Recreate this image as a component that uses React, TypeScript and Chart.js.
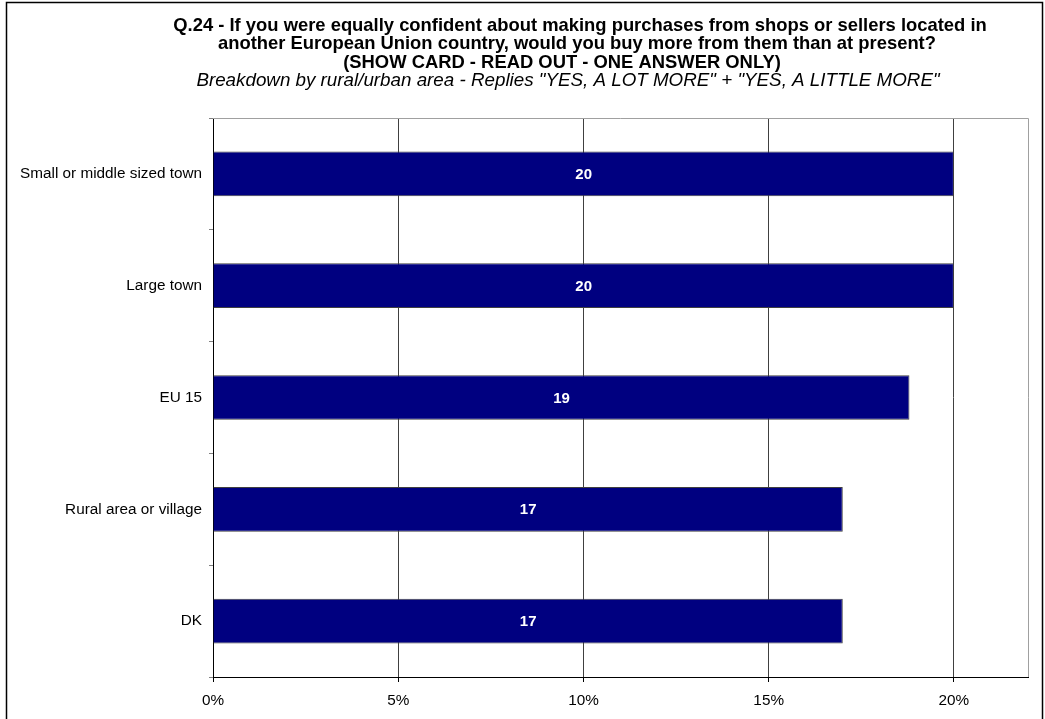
import React, { useEffect, useRef } from "react";
import { Chart, registerables } from "chart.js";

Chart.register(...registerables);

const categories = [
  "Small or middle sized town",
  "Large town",
  "EU 15",
  "Rural area or village",
  "DK",
];
const values = [20, 20, 18.8, 17, 17];
const valueLabels = ["20", "20", "19", "17", "17"];
const xTicks = [0, 5, 10, 15, 20];
const xMax = 22;

const titleLines = [
  "Q.24 - If you were equally confident about making purchases from shops or sellers located in",
  "another European Union country, would you buy more from them than at present?",
  "(SHOW CARD - READ OUT - ONE ANSWER ONLY)",
];
const subtitleText =
  'Breakdown by rural/urban area - Replies "YES, A LOT MORE" + "YES, A LITTLE MORE"';

const FONT = "'Liberation Sans', Arial, sans-serif";

const decorPlugin = {
  id: "decor",
  beforeDraw(chart: any) {
    const ctx = chart.ctx;
    ctx.save();
    ctx.fillStyle = "#fff";
    ctx.fillRect(0, 0, chart.width, chart.height);
    ctx.restore();
  },
  afterDraw(chart: any) {
    const ctx = chart.ctx;
    const ca = chart.chartArea;
    ctx.save();
    // plot frame top & right
    ctx.strokeStyle = "#a0a0a0";
    ctx.lineWidth = 1;
    ctx.beginPath();
    ctx.moveTo(ca.left, Math.round(ca.top) + 0.5);
    ctx.lineTo(Math.round(ca.right) + 0.5, Math.round(ca.top) + 0.5);
    ctx.lineTo(Math.round(ca.right) + 0.5, ca.bottom);
    ctx.stroke();
    // outer border
    ctx.strokeStyle = "#000";
    ctx.lineWidth = 1.5;
    ctx.strokeRect(6.5, 2.5, 1036, 730);
    // titles
    ctx.fillStyle = "#000";
    ctx.textAlign = "center";
    ctx.textBaseline = "middle";
    ctx.font = `bold 18.4px ${FONT}`;
    const centers = [580, 577, 562];
    titleLines.forEach((t, i) => {
      ctx.fillText(t, centers[i], 26 + i * 18.3);
    });
    ctx.font = `italic 18.8px ${FONT}`;
    ctx.fillText(subtitleText, 568, 81);
    ctx.restore();
  },
  afterDatasetsDraw(chart: any) {
    const ctx = chart.ctx;
    const meta = chart.getDatasetMeta(0);
    ctx.save();
    ctx.fillStyle = "#fff";
    ctx.font = `bold 15px ${FONT}`;
    ctx.textAlign = "center";
    ctx.textBaseline = "middle";
    meta.data.forEach((bar: any, i: number) => {
      const x = (bar.x + bar.base) / 2;
      ctx.fillText(valueLabels[i], x, bar.y + 1);
    });
    ctx.restore();
  },
};

export default function App() {
  const ref = useRef<HTMLCanvasElement | null>(null);
  useEffect(() => {
    if (!ref.current) return;
    const chart = new Chart(ref.current, {
      type: "bar",
      data: {
        labels: categories,
        datasets: [
          {
            data: values,
            backgroundColor: "#000080",
            borderColor: "#404040",
            borderWidth: 1,
            barPercentage: 0.4,
            categoryPercentage: 1,
          },
        ],
      },
      options: {
        indexAxis: "y",
        animation: false,
        responsive: false,
        maintainAspectRatio: false,
        layout: { padding: { top: 118, right: 17, left: 0, bottom: 0 } },
        plugins: {
          legend: { display: false },
          title: { display: false },
          tooltip: { enabled: false },
        },
        scales: {
          x: {
            type: "linear",
            min: 0,
            max: xMax,
            afterFit: (s: any) => {
              s.height = 42;
            },
            afterBuildTicks: (s: any) => {
              s.ticks = xTicks.map((v) => ({ value: v }));
            },
            ticks: {
              callback: (v: any) => `${v}%`,
              color: "#000",
              font: { family: FONT, size: 15.3 },
              padding: 10,
            },
            grid: {
              color: "#404040",
              lineWidth: 1,
              drawTicks: true,
              tickLength: 5,
              tickColor: "#000",
            },
            border: { display: true, color: "#000", width: 1 },
          },
          y: {
            type: "category",
            afterFit: (s: any) => {
              s.width = 213;
            },
            ticks: {
              color: "#000",
              font: { family: FONT, size: 15.3 },
              padding: 7,
            },
            grid: {
              offset: true,
              drawOnChartArea: false,
              drawTicks: true,
              tickLength: 4,
              tickColor: "#808080",
            },
            border: { display: true, color: "#000", width: 1 },
          },
        },
      },
      plugins: [decorPlugin],
    } as any);
    return () => chart.destroy();
  }, []);
  return (
    <div style={{ position: "fixed", left: 0, top: 0, width: 1045, height: 719, background: "#fff" }}>
      <canvas ref={ref} width={1045} height={719} style={{ width: 1045, height: 719, display: "block" }} />
    </div>
  );
}
